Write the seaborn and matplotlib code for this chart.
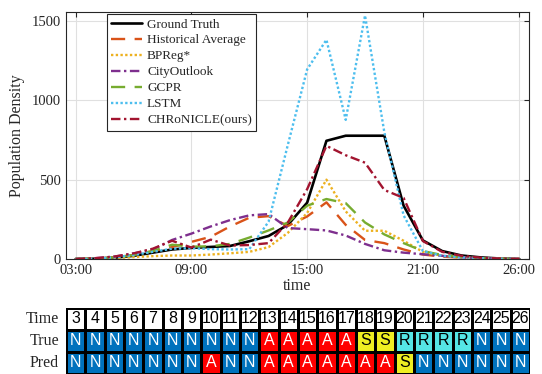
import numpy as np
import pandas as pd
import seaborn as sns
import matplotlib.pyplot as plt
from matplotlib.colors import ListedColormap

hours = list(range(3, 27))

ground_truth = [0, 2, 8, 20, 40, 60, 70, 76, 82, 112, 145, 215, 355, 745, 777, 777, 777, 336, 117, 50, 22, 10, 3, 0]
hist_avg = [0, 2, 10, 25, 50, 75, 108, 140, 205, 260, 270, 208, 268, 357, 215, 120, 100, 60, 28, 15, 8, 4, 2, 0]
bpreg = [0, 2, 5, 12, 18, 22, 22, 28, 36, 45, 75, 165, 290, 500, 300, 178, 178, 115, 45, 20, 10, 5, 2, 0]
city_outlook = [0, 5, 15, 35, 60, 120, 160, 205, 245, 275, 283, 195, 188, 180, 148, 95, 55, 40, 30, 20, 10, 5, 2, 0]
gcpr = [0, 2, 10, 25, 50, 90, 78, 80, 95, 135, 180, 230, 336, 378, 352, 230, 155, 100, 50, 25, 12, 5, 2, 0]
lstm = [0, 2, 10, 25, 45, 65, 68, 62, 60, 62, 235, 720, 1195, 1382, 877, 1535, 800, 275, 50, 20, 10, 5, 2, 0]
chronicle = [0, 5, 15, 35, 65, 115, 72, 122, 85, 88, 100, 230, 440, 713, 654, 607, 435, 385, 113, 45, 20, 8, 3, 0]

series_names = ["Ground Truth", "Historical Average", "BPReg*", "CityOutlook",
                "GCPR", "LSTM", "CHRoNICLE(ours)"]
series_values = [ground_truth, hist_avg, bpreg, city_outlook, gcpr, lstm, chronicle]

tick_hours = [3, 9, 15, 21, 26]
tick_labels = ["03:00", "09:00", "15:00", "21:00", "26:00"]

true_states = ["N"] * 10 + ["A"] * 5 + ["S"] * 2 + ["R"] * 4 + ["N"] * 3
pred_states = ["N"] * 7 + ["A"] + ["N"] * 2 + ["A"] * 7 + ["S"] + ["N"] * 6
row_names = ["Time", "True", "Pred"]

colors = ["black", "#D95319", "#EDB120", "#7E2F8E", "#77AC30", "#4DBEEE", "#A2142F"]
styles = ["-", (0, (6, 4)), (0, (1, 1)), (0, (4, 1.5, 1, 1.5)), (0, (6, 4)), (0, (1, 1)), (0, (4, 1.5, 1, 1.5))]
widths = [1.9, 1.7, 1.7, 1.7, 1.7, 1.7, 1.7]

sns.set_style("white")
plt.rcParams['font.family'] = ['Liberation Serif', 'DejaVu Serif']

df = pd.DataFrame({"hour": hours})
for name, vals in zip(series_names, series_values):
    df[name] = vals
long_df = df.melt(id_vars="hour", var_name="method", value_name="density")

fig = plt.figure(figsize=(5.42, 3.74), dpi=100)
ax = fig.add_axes([0.1218, 0.3075, 0.8542, 0.6605])

for name, c, ls, lw in zip(series_names, colors, styles, widths):
    sub = long_df[long_df["method"] == name]
    sns.lineplot(data=sub, x="hour", y="density", ax=ax, color=c,
                 linestyle=ls, linewidth=lw, label=name)

ax.set_xlim(2.5, 26.5)
ax.set_ylim(0, 1557)
ax.set_xticks(tick_hours)
ax.set_xticklabels(tick_labels)
ax.set_yticks([0, 500, 1000, 1500])
ax.tick_params(axis="both", direction="in", top=True, right=True, labelsize=10.5,
               length=3.5, width=0.8, color="#262626")
ax.grid(True, color="#e0e0e0", linewidth=0.8)
for sp in ax.spines.values():
    sp.set_color("#262626")
    sp.set_linewidth(0.8)
ax.set_xlabel("time", fontsize=11.5, labelpad=1)
ax.set_ylabel("Population Density", fontsize=11.5, labelpad=5)

leg = ax.legend(loc="upper left", bbox_to_anchor=(0.088, 0.993), fontsize=9.5,
                frameon=True, fancybox=False, edgecolor="#262626", framealpha=1,
                handlelength=2.3, labelspacing=0.28, borderpad=0.35, handletextpad=0.4,
                borderaxespad=0)
leg.get_frame().set_linewidth(0.8)

# state table as a heatmap
code_map = {"N": 1, "A": 2, "S": 3, "R": 4}
codes = np.array([[0] * len(hours),
                  [code_map[s] for s in true_states],
                  [code_map[s] for s in pred_states]])
annots = np.array([[str(h) for h in hours], true_states, pred_states])
cmap = ListedColormap(["white", "#0072BD", "#FF0000", "#EEEE22", "#55E6E6"])

tax = fig.add_axes([0.1218, 0.0, 0.8561, 0.1765])
sns.heatmap(codes, ax=tax, cmap=cmap, vmin=-0.5, vmax=4.5, cbar=False,
            annot=annots, fmt="", linewidths=0.9, linecolor="black",
            annot_kws={"fontsize": 11.5, "family": ["Liberation Sans", "DejaVu Sans"]})
for t, code in zip(tax.texts, codes.flatten()):
    t.set_color("white" if code in (1, 2) else "black")
tax.set_xticks([])
tax.set_yticks(np.arange(3) + 0.5)
tax.set_yticklabels(row_names, rotation=0, fontsize=11.5)
tax.tick_params(axis="y", length=0, pad=5)

fig.savefig("out.png", dpi=100)
